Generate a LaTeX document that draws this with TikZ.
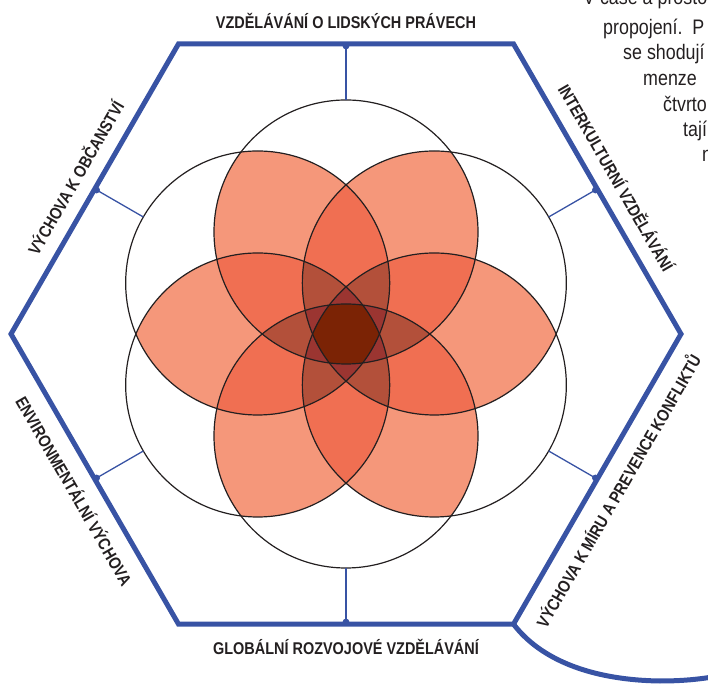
\documentclass[tikz,border=0pt]{standalone}
\usepackage{fontspec}
\newfontfamily\labfont[FakeStretch=0.85]{Liberation Sans}
\newfontfamily\parfont[FakeStretch=0.85]{Liberation Sans}
\definecolor{lvtwo}{HTML}{F5977A}
\definecolor{lvthree}{HTML}{F06F52}
\definecolor{lvfour}{HTML}{B3503A}
\definecolor{lvfive}{HTML}{9B3531}
\definecolor{lvsix}{HTML}{7B2305}
\definecolor{hexblue}{HTML}{3853A4}
\definecolor{ink}{HTML}{231F20}
\newcommand\clipunless[3]{\ifnum#1=#2 \else\ifnum#1=#3 \else\clip (c#1) circle[radius=\R];\fi\fi}
\begin{document}
\begin{tikzpicture}[x=1pt,y=1pt,
  lab/.style={font=\labfont\bfseries\fontsize{17}{20}\selectfont, text=ink, inner sep=0pt},
  para/.style={font=\parfont\fontsize{21}{25}\selectfont, text=ink, inner sep=0pt, anchor=base west},
  hexline/.style={draw=hexblue, line width=5pt, line join=miter},
  tick/.style={draw=hexblue, line width=1.3pt},
  ring/.style={draw=ink, line width=1.2pt}]
\useasboundingbox (0,0) rectangle (708,684);
\def\R{132pt}
\coordinate (O) at (346,350);
\foreach \i/\a in {0/90,1/30,2/-30,3/-90,4/-150,5/150}
  \coordinate (c\i) at ([shift={(\a:102)}]O);
% at least two circles
\foreach \a in {0,...,5}{\foreach \b in {0,...,5}{\ifnum\a<\b\relax
  \begin{scope}\clip (c\a) circle[radius=\R];\fill[lvtwo] (c\b) circle[radius=\R];\end{scope}\fi}}
% at least three
\foreach \a in {0,...,5}{\foreach \b in {0,...,5}{\foreach \c in {0,...,5}{%
  \ifnum\a<\b\relax\ifnum\b<\c\relax
  \begin{scope}\clip (c\a) circle[radius=\R];\clip (c\b) circle[radius=\R];\fill[lvthree] (c\c) circle[radius=\R];\end{scope}\fi\fi}}}
% at least four
\foreach \x in {0,...,5}{\foreach \y in {0,...,5}{\ifnum\x<\y\relax
  \begin{scope}
  \clipunless{0}{\x}{\y}\clipunless{1}{\x}{\y}\clipunless{2}{\x}{\y}%
  \clipunless{3}{\x}{\y}\clipunless{4}{\x}{\y}\clipunless{5}{\x}{\y}%
  \fill[lvfour] (O) circle[radius=200pt];
  \end{scope}\fi}}
% at least five
\foreach \x in {0,...,5}{
  \begin{scope}
  \clipunless{0}{\x}{\x}\clipunless{1}{\x}{\x}\clipunless{2}{\x}{\x}%
  \clipunless{3}{\x}{\x}\clipunless{4}{\x}{\x}\clipunless{5}{\x}{\x}%
  \fill[lvfive] (O) circle[radius=200pt];
  \end{scope}}
% all six
\begin{scope}
  \clipunless{0}{9}{9}\clipunless{1}{9}{9}\clipunless{2}{9}{9}%
  \clipunless{3}{9}{9}\clipunless{4}{9}{9}\clipunless{5}{9}{9}%
  \fill[lvsix] (O) circle[radius=200pt];
\end{scope}
% circle outlines
\foreach \i in {0,...,5} \draw[ring] (c\i) circle[radius=\R];
% hexagon
\foreach \i/\a in {0/0,1/60,2/120,3/180,4/240,5/300}
  \coordinate (h\i) at ([shift={(\a:335)}]O);
\draw[hexline] (h0) -- (h1) -- (h2) -- (h3) -- (h4) -- (h5) -- cycle;
% ticks
\foreach \i/\a in {1/90,2/30,3/150,4/210,5/270,6/330}{
  \coordinate (m\i) at ([shift={(\a:288)}]O);
  \coordinate (t\i) at ([shift={(\a:234)}]O);
  \draw[tick] (m\i) -- (t\i);
  \fill[hexblue] (m\i) circle[radius=3.4pt];
}
% page curve
\coordinate (q1) at (660,3);
\coordinate (q2) at (740,12);
\draw[draw=hexblue, line width=5pt] (h5) .. controls (540,25) and (590,4) .. (q1) .. controls (690,3) and (710,6) .. (q2);
% labels
\node[lab] (ltop) at ([shift={(90:313)}]O) {VZDĚLÁVÁNÍ O LIDSKÝCH PRÁVECH};
\node[lab] (lbot) at ([shift={(270:313)}]O) {GLOBÁLNÍ ROZVOJOVÉ VZDĚLÁVÁNÍ};
\node[lab, rotate=60] (lul) at ([shift={(150:313)}]O) {VÝCHOVA K OBČANSTVÍ};
\node[lab, rotate=-60] (lur) at ([shift={(30:313)}]O) {INTERKULTURNÍ VZDĚLÁVÁNÍ};
\node[lab, rotate=-60] (lll) at ([shift={(210:313)}]O) {ENVIRONMENTÁLNÍ VÝCHOVA};
\node[lab, rotate=60] (llr) at ([shift={(330:313)}]O) {VÝCHOVA K MÍRU A PREVENCE KONFLIKTŮ};
% cropped paragraph
\node[para] (p1) at (583,679) {V čase a prostoru};
\node[para] (p2) at (603,649) {propojení.\ \ P};
\node[para] (p3) at (623,624) {se shodují};
\node[para] (p4) at (643,598) {menze};
\node[para] (p5) at (663,572) {čtvrto};
\node[para] (p6) at (683,547) {tají};
\node[para] (p7) at (702,522) {n};
\end{tikzpicture}
\end{document}
